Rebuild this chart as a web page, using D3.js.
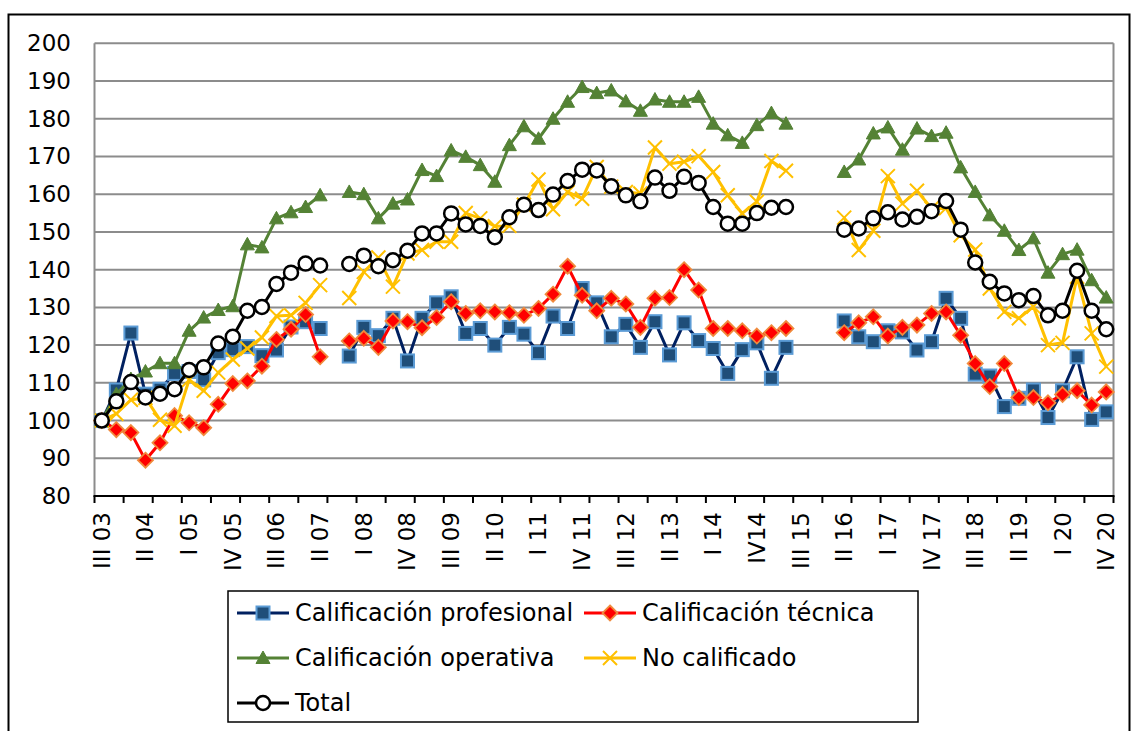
<!DOCTYPE html>
<html>
<head>
<meta charset="utf-8">
<script src="https://cdnjs.cloudflare.com/ajax/libs/d3/7.8.5/d3.min.js"></script>
<style>
  body { margin: 0; background: #fff; }
  text { font-family: "DejaVu Sans", sans-serif; fill: #000; }
</style>
</head>
<body>
<script>
// quarters from III 03 to IV 20
var categories = [
  "III 03","IV 03","I 04","II 04","III 04","IV 04","I 05","II 05","III 05","IV 05",
  "I 06","II 06","III 06","IV 06","I 07","II 07","III 07","IV 07","I 08","II 08",
  "III 08","IV 08","I 09","II 09","III 09","IV 09","I 10","II 10","III 10","IV 10",
  "I 11","II 11","III 11","IV 11","I 12","II 12","III 12","IV 12","I 13","II 13",
  "III 13","IV 13","I 14","II 14","III 14","IV14","I 15","II 15","III 15","IV 15",
  "I 16","II 16","III 16","IV 16","I 17","II 17","III 17","IV 17","I 18","II 18",
  "III 18","IV 18","I 19","II 19","III 19","IV 19","I 20","II 20","III 20","IV 20"
];
// labels shown on the axis (every third quarter)
var tickLabels = ["III 03","II 04","I 05","IV 05","III 06","II 07","I 08","IV 08","III 09","II 10",
  "I 11","IV 11","III 12","II 13","I 14","IV14","III 15","II 16","I 17","IV 17",
  "III 18","II 19","I 20","IV 20"];
var yTicks = [80, 90, 100, 110, 120, 130, 140, 150, 160, 170, 180, 190, 200];

var profesional = [100,108.1,123.2,107,108.3,112.5,113,110.8,118,118.8,
  119.6,117.2,118.7,124.8,126.2,124.4,null,117.1,124.7,122.5,
  127.1,115.8,127.1,131.2,132.8,123.1,124.4,120.0,124.7,122.9,
  118.0,127.7,124.4,135.0,131.2,122.2,125.5,119.4,126.2,117.4,
  125.9,121.2,119.1,112.5,118.8,120.6,111.2,119.4,null,null,
  null,126.4,122.2,120.9,123.8,123.5,118.7,120.9,132.4,127.1,
  112.3,111.8,103.7,105.9,108.1,100.8,107.9,116.9,100.3,102.3];

var tecnica = [100,97.6,96.8,89.5,94.1,101.3,99.4,98.1,104.3,109.8,
  110.5,114.4,121.5,124.2,128.1,116.9,null,121.1,121.8,119.4,
  126.4,126.2,124.6,127.3,131.5,128.4,129.1,128.8,128.6,127.9,
  129.7,133.5,140.9,133.2,129.1,132.4,130.9,124.7,132.4,132.6,
  140.0,134.6,124.4,124.4,123.8,122.4,123.3,124.4,null,null,
  null,123.3,125.9,127.5,122.4,124.7,125.3,128.4,128.8,122.6,
  115.1,109.0,115.1,106.1,106.1,104.7,106.9,107.9,104.1,107.6];

var operativa = [100,107,111,113,115.2,115.2,123.8,127.3,129.3,130.3,
  146.7,145.9,153.6,155.2,156.6,159.7,null,160.6,160.0,153.6,
  157.5,158.6,166.4,164.8,171.6,169.9,167.7,163.3,173.0,178.0,
  174.7,180.0,184.5,188.4,186.8,187.5,184.6,182.1,185.1,184.5,
  184.5,185.8,178.7,175.6,173.6,178.3,181.5,178.7,null,null,
  null,165.9,169.2,176.1,177.7,171.8,177.4,175.4,176.3,167.1,
  160.6,154.4,150.3,145.2,148.3,139.2,144.1,145.3,137.2,132.6];

var noCalificado = [100,101.8,105.5,106,100.2,98.6,110.8,107.9,112.7,116.2,
  119.1,122.0,127.7,127.9,131.2,135.9,null,132.5,139.4,143.2,
  135.5,144.3,145.2,147.4,147.4,155.0,153.6,151.5,151.6,157.2,
  163.9,156.0,160.6,158.8,167.2,162.0,160.6,160.2,172.4,168.1,
  168.6,170.1,165.9,159.7,154.9,158.0,168.8,166.2,null,null,
  null,153.8,145.2,150.3,164.8,157.5,160.9,156.2,156.3,149.1,
  145.3,135.0,128.8,127.1,130.2,120.0,120.6,138.1,123.1,114.3];

var total = [100,105.1,110.2,106.1,107.1,108.3,113.4,114.1,120.4,122.2,
  129.1,130.1,136.2,139.2,141.6,141.1,null,141.5,143.7,140.9,
  142.5,145.0,149.6,149.6,154.9,152.0,151.6,148.6,153.9,157.2,
  155.8,159.9,163.5,166.5,166.3,162.1,159.7,158.1,164.4,160.9,
  164.6,163.0,156.6,152.2,152.2,155.0,156.4,156.6,null,null,
  null,150.6,150.9,153.6,155.2,153.3,154.0,155.5,158.2,150.6,
  141.9,136.8,133.7,131.9,133.0,127.9,129.1,139.7,129.1,124.2];

var series = [
  {name: "Calificación profesional", values: profesional, line: "#002060", marker: "square"},
  {name: "Calificación técnica", values: tecnica, line: "#FF0000", marker: "diamond"},
  {name: "Calificación operativa", values: operativa, line: "#548235", marker: "triangle"},
  {name: "No calificado", values: noCalificado, line: "#FFC000", marker: "cross"},
  {name: "Total", values: total, line: "#000000", marker: "circle"}
];

var W = 1132, H = 731;
var plot = {left: 94.5, right: 1113.5, top: 43.3, bottom: 496};

var svg = d3.select("body").append("svg")
  .attr("width", W).attr("height", H);

svg.append("rect").attr("width", W).attr("height", H).attr("fill", "#fff");

// outer chart border
svg.append("rect")
  .attr("x", 8.5).attr("y", 14.5)
  .attr("width", 1121).attr("height", 760)
  .attr("fill", "none").attr("stroke", "#000").attr("stroke-width", 2);

var x = d3.scaleBand().domain(categories).range([plot.left, plot.right]).padding(0);
var y = d3.scaleLinear().domain([80, 200]).range([plot.bottom, plot.top]);
var bw = x.bandwidth();
function cx(i) { return x(categories[i]) + bw / 2; }

// gridlines
svg.append("g").selectAll("line")
  .data(yTicks.filter(function(d) { return d > 80; }))
  .enter().append("line")
  .attr("x1", plot.left).attr("x2", plot.right)
  .attr("y1", function(d) { return y(d); }).attr("y2", function(d) { return y(d); })
  .attr("stroke", "#8c8c8c").attr("stroke-width", 2);

// left / right plot edges
svg.append("line").attr("x1", plot.left).attr("x2", plot.left)
  .attr("y1", plot.top).attr("y2", plot.bottom)
  .attr("stroke", "#8c8c8c").attr("stroke-width", 2);
svg.append("line").attr("x1", plot.right).attr("x2", plot.right)
  .attr("y1", plot.top).attr("y2", plot.bottom)
  .attr("stroke", "#8c8c8c").attr("stroke-width", 2);

// y labels
svg.append("g").selectAll("text")
  .data(yTicks).enter().append("text")
  .attr("x", 71).attr("y", function(d) { return y(d); })
  .attr("text-anchor", "end").attr("dominant-baseline", "central")
  .style("font-size", "23px")
  .text(function(d) { return d; });

// x axis line and ticks (every second quarter)
svg.append("line").attr("x1", plot.left - 1).attr("x2", plot.right + 1)
  .attr("y1", plot.bottom).attr("y2", plot.bottom)
  .attr("stroke", "#000").attr("stroke-width", 2);
var tickPos = d3.range(0, categories.length + 1, 2).map(function(i) {
  return i < categories.length ? x(categories[i]) : plot.right;
});
svg.append("g").selectAll("line")
  .data(tickPos).enter().append("line")
  .attr("x1", function(d) { return d; }).attr("x2", function(d) { return d; })
  .attr("y1", plot.bottom).attr("y2", plot.bottom + 7)
  .attr("stroke", "#000").attr("stroke-width", 2);

// x labels
svg.append("g").selectAll("text")
  .data(tickLabels).enter().append("text")
  .attr("transform", function(d) {
    return "translate(" + (x(d) + bw / 2) + "," + 512 + ") rotate(-90)";
  })
  .attr("text-anchor", "end").attr("dominant-baseline", "central")
  .style("font-size", "23px")
  .text(function(d) { return d; });

// markers
function drawMarker(g, type, px, py) {
  if (type === "square") {
    g.append("rect").attr("x", px - 6.5).attr("y", py - 6.5)
      .attr("width", 13).attr("height", 13)
      .attr("fill", "#1F4E79").attr("stroke", "#5B9BD5").attr("stroke-width", 2);
  } else if (type === "diamond") {
    g.append("path")
      .attr("d", "M" + px + "," + (py - 7.5) + "L" + (px + 7.5) + "," + py +
        "L" + px + "," + (py + 7.5) + "L" + (px - 7.5) + "," + py + "Z")
      .attr("fill", "#FF0000").attr("stroke", "#F08A3C").attr("stroke-width", 1.8);
  } else if (type === "triangle") {
    g.append("path")
      .attr("d", "M" + px + "," + (py - 7) + "L" + (px + 7) + "," + (py + 5.5) +
        "L" + (px - 7) + "," + (py + 5.5) + "Z")
      .attr("fill", "#548235").attr("stroke", "#548235").attr("stroke-width", 1);
  } else if (type === "cross") {
    g.append("path")
      .attr("d", "M" + (px - 7) + "," + (py - 7) + "L" + (px + 7) + "," + (py + 7) +
        "M" + (px + 7) + "," + (py - 7) + "L" + (px - 7) + "," + (py + 7))
      .attr("fill", "none").attr("stroke", "#FFC000").attr("stroke-width", 2);
  } else if (type === "circle") {
    g.append("circle").attr("cx", px).attr("cy", py).attr("r", 7)
      .attr("fill", "#fff").attr("stroke", "#000").attr("stroke-width", 2.5);
  }
}

var line = d3.line()
  .defined(function(d) { return d != null; })
  .x(function(d, i) { return cx(i); })
  .y(function(d) { return y(d); });

series.forEach(function(s) {
  var g = svg.append("g");
  g.append("path")
    .attr("d", line(s.values))
    .attr("fill", "none").attr("stroke", s.line).attr("stroke-width", 3)
    .attr("stroke-linejoin", "round");
  s.values.forEach(function(v, i) {
    if (v != null) drawMarker(g, s.marker, cx(i), y(v));
  });
});

// legend
var lg = svg.append("g");
lg.append("rect").attr("x", 228).attr("y", 591).attr("width", 690).attr("height", 131)
  .attr("fill", "#fff").attr("stroke", "#000").attr("stroke-width", 1.5);
var legendPos = [
  {x: 237, y: 613}, {x: 584, y: 613},
  {x: 237, y: 658}, {x: 584, y: 658},
  {x: 237, y: 703}
];
series.forEach(function(s, i) {
  var p = legendPos[i];
  lg.append("line").attr("x1", p.x).attr("x2", p.x + 52)
    .attr("y1", p.y).attr("y2", p.y)
    .attr("stroke", s.line).attr("stroke-width", 3);
  drawMarker(lg, s.marker, p.x + 26, p.y);
  lg.append("text").attr("x", p.x + 58).attr("y", p.y)
    .attr("dominant-baseline", "central")
    .style("font-size", "24px")
    .text(s.name);
});
</script>
</body>
</html>
